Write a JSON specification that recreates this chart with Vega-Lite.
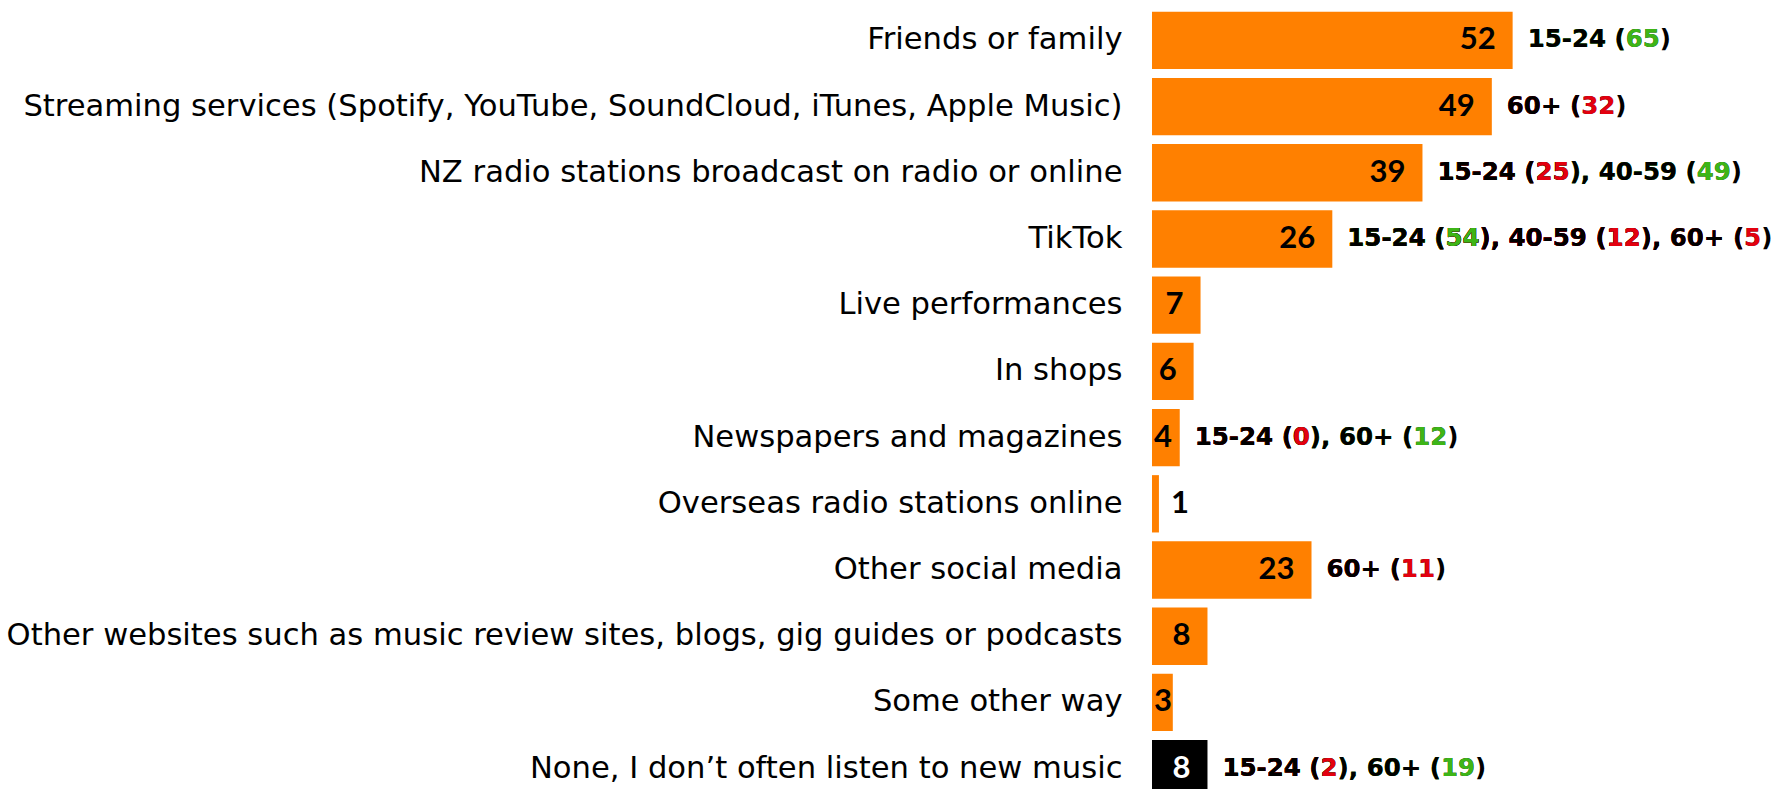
{
  "$schema": "https://vega.github.io/schema/vega-lite/v6.json",
  "width": 625,
  "height": 809,
  "autosize": "none",
  "padding": {"left": 1152, "top": 0, "right": 0, "bottom": 0},
  "background": "white",
  "config": {"view": {"stroke": null}},
  "datasets": {
    "bars": [
      {"category": "Friends or family", "value": 52, "kind": "source"},
      {"category": "Streaming services (Spotify, YouTube, SoundCloud, iTunes, Apple Music)", "value": 49, "kind": "source"},
      {"category": "NZ radio stations broadcast on radio or online", "value": 39, "kind": "source"},
      {"category": "TikTok", "value": 26, "kind": "source"},
      {"category": "Live performances", "value": 7, "kind": "source"},
      {"category": "In shops", "value": 6, "kind": "source"},
      {"category": "Newspapers and magazines", "value": 4, "kind": "source"},
      {"category": "Overseas radio stations online", "value": 1, "kind": "source"},
      {"category": "Other social media", "value": 23, "kind": "source"},
      {"category": "Other websites such as music review sites, blogs, gig guides or podcasts", "value": 8, "kind": "source"},
      {"category": "Some other way\u00a0", "value": 3, "kind": "source"},
      {"category": "None, I don’t often listen to new music", "value": 8, "kind": "none"}
    ],
    "notes": [
      {"category": "Friends or family", "text": "15-24 (65)", "tone": "base", "layer": 1},
      {"category": "Friends or family", "text": "15-24 (65", "tone": "up", "layer": 2},
      {"category": "Friends or family", "text": "15-24 (", "tone": "base", "layer": 3},
      {"category": "Streaming services (Spotify, YouTube, SoundCloud, iTunes, Apple Music)", "text": "60+ (32)", "tone": "base", "layer": 1},
      {"category": "Streaming services (Spotify, YouTube, SoundCloud, iTunes, Apple Music)", "text": "60+ (32", "tone": "down", "layer": 2},
      {"category": "Streaming services (Spotify, YouTube, SoundCloud, iTunes, Apple Music)", "text": "60+ (", "tone": "base", "layer": 3},
      {"category": "NZ radio stations broadcast on radio or online", "text": "15-24 (25), 40-59 (49)", "tone": "base", "layer": 1},
      {"category": "NZ radio stations broadcast on radio or online", "text": "15-24 (25), 40-59 (49", "tone": "up", "layer": 2},
      {"category": "NZ radio stations broadcast on radio or online", "text": "15-24 (25), 40-59 (", "tone": "base", "layer": 3},
      {"category": "NZ radio stations broadcast on radio or online", "text": "15-24 (25", "tone": "down", "layer": 4},
      {"category": "NZ radio stations broadcast on radio or online", "text": "15-24 (", "tone": "base", "layer": 5},
      {"category": "TikTok", "text": "15-24 (54), 40-59 (12), 60+ (5)", "tone": "base", "layer": 1},
      {"category": "TikTok", "text": "15-24 (54), 40-59 (12), 60+ (5", "tone": "down", "layer": 2},
      {"category": "TikTok", "text": "15-24 (54), 40-59 (12), 60+ (", "tone": "base", "layer": 3},
      {"category": "TikTok", "text": "15-24 (54), 40-59 (12", "tone": "down", "layer": 4},
      {"category": "TikTok", "text": "15-24 (54), 40-59 (", "tone": "base", "layer": 5},
      {"category": "TikTok", "text": "15-24 (54", "tone": "up", "layer": 6},
      {"category": "TikTok", "text": "15-24 (", "tone": "base", "layer": 7},
      {"category": "Newspapers and magazines", "text": "15-24 (0), 60+ (12)", "tone": "base", "layer": 1},
      {"category": "Newspapers and magazines", "text": "15-24 (0), 60+ (12", "tone": "up", "layer": 2},
      {"category": "Newspapers and magazines", "text": "15-24 (0), 60+ (", "tone": "base", "layer": 3},
      {"category": "Newspapers and magazines", "text": "15-24 (0", "tone": "down", "layer": 4},
      {"category": "Newspapers and magazines", "text": "15-24 (", "tone": "base", "layer": 5},
      {"category": "Other social media", "text": "60+ (11)", "tone": "base", "layer": 1},
      {"category": "Other social media", "text": "60+ (11", "tone": "down", "layer": 2},
      {"category": "Other social media", "text": "60+ (", "tone": "base", "layer": 3},
      {"category": "None, I don’t often listen to new music", "text": "15-24 (2), 60+ (19)", "tone": "base", "layer": 1},
      {"category": "None, I don’t often listen to new music", "text": "15-24 (2), 60+ (19", "tone": "up", "layer": 2},
      {"category": "None, I don’t often listen to new music", "text": "15-24 (2), 60+ (", "tone": "base", "layer": 3},
      {"category": "None, I don’t often listen to new music", "text": "15-24 (2", "tone": "down", "layer": 4},
      {"category": "None, I don’t often listen to new music", "text": "15-24 (", "tone": "base", "layer": 5}
    ]
  },
  "encoding": {
    "y": {
      "field": "category",
      "type": "nominal",
      "scale": {
        "domain": [
          "Friends or family",
          "Streaming services (Spotify, YouTube, SoundCloud, iTunes, Apple Music)",
          "NZ radio stations broadcast on radio or online",
          "TikTok",
          "Live performances",
          "In shops",
          "Newspapers and magazines",
          "Overseas radio stations online",
          "Other social media",
          "Other websites such as music review sites, blogs, gig guides or podcasts",
          "Some other way\u00a0",
          "None, I don’t often listen to new music"
        ],
        "paddingInner": 0.134,
        "paddingOuter": 0.177
      },
      "axis": {
        "title": null,
        "domain": false,
        "ticks": false,
        "labelFont": "DejaVu Sans",
        "labelFontSize": 30.6,
        "labelColor": "#000000",
        "labelPadding": 30,
        "labelLimit": 1400
      }
    }
  },
  "layer": [
    {
      "data": {"name": "bars"},
      "mark": {"type": "bar"},
      "encoding": {
        "x": {"field": "value", "type": "quantitative", "scale": {"domain": [0, 90.12], "nice": false, "zero": true}, "axis": null},
        "color": {"field": "kind", "type": "nominal", "scale": {"domain": ["source", "none"], "range": ["#FF8000", "#000000"]}, "legend": null}
      }
    },
    {
      "data": {"name": "bars"},
      "transform": [{"filter": "datum.value >= 5"}],
      "mark": {"type": "text", "align": "right", "baseline": "middle", "dx": -17, "font": "Lato", "fontWeight": "bold", "fontSize": 31},
      "encoding": {
        "x": {"field": "value", "type": "quantitative"},
        "text": {"field": "value", "type": "quantitative"},
        "color": {"field": "kind", "type": "nominal", "scale": {"domain": ["source", "none"], "range": ["#000000", "#FFFFFF"]}, "legend": null}
      }
    },
    {
      "data": {"name": "bars"},
      "transform": [{"filter": "datum.value >= 2 && datum.value < 5"}],
      "mark": {"type": "text", "align": "left", "baseline": "middle", "dx": 2, "font": "Lato", "fontWeight": "bold", "fontSize": 31, "color": "#000000"},
      "encoding": {
        "x": {"datum": 0, "type": "quantitative"},
        "text": {"field": "value", "type": "quantitative"}
      }
    },
    {
      "data": {"name": "bars"},
      "transform": [{"filter": "datum.value < 2"}],
      "mark": {"type": "text", "align": "left", "baseline": "middle", "dx": 12, "font": "Lato", "fontWeight": "bold", "fontSize": 31, "color": "#000000"},
      "encoding": {
        "x": {"field": "value", "type": "quantitative"},
        "text": {"field": "value", "type": "quantitative"}
      }
    },
    {
      "data": {"name": "notes"},
      "transform": [{"lookup": "category", "from": {"data": {"name": "bars"}, "key": "category", "fields": ["value"]}}],
      "mark": {"type": "text", "align": "left", "baseline": "middle", "dx": 15, "font": "DejaVu Sans", "fontWeight": "bold", "fontSize": 24.5},
      "encoding": {
        "x": {"field": "value", "type": "quantitative"},
        "text": {"field": "text", "type": "nominal"},
        "order": {"field": "layer", "type": "quantitative"},
        "color": {"field": "tone", "type": "nominal", "scale": {"domain": ["base", "up", "down"], "range": ["#000000", "#3DB517", "#E3000F"]}, "legend": null}
      }
    }
  ],
  "resolve": {"scale": {"color": "independent"}}
}
